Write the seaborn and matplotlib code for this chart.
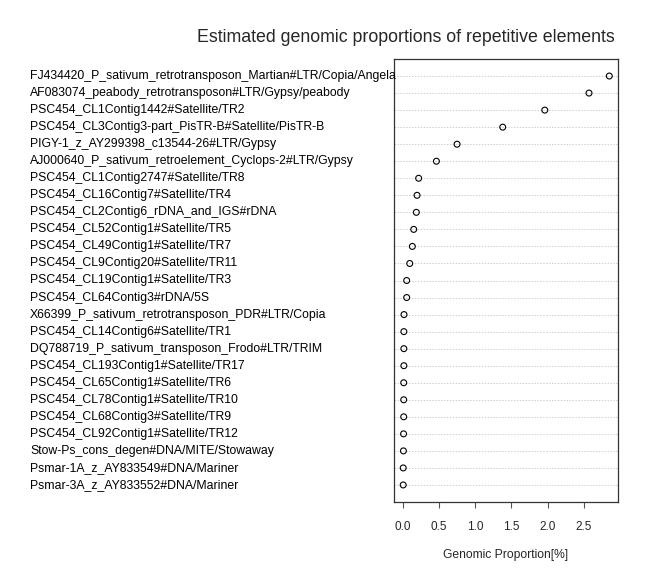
import matplotlib
matplotlib.use("Agg")
import matplotlib.pyplot as plt
import matplotlib.transforms as mtransforms
import numpy as np
import pandas as pd
import seaborn as sns

# repeat element names, top to bottom
elements = [
    "FJ434420_P_sativum_retrotransposon_Martian#LTR/Copia/Angela",
    "AF083074_peabody_retrotransposon#LTR/Gypsy/peabody",
    "PSC454_CL1Contig1442#Satellite/TR2",
    "PSC454_CL3Contig3-part_PisTR-B#Satellite/PisTR-B",
    "PIGY-1_z_AY299398_c13544-26#LTR/Gypsy",
    "AJ000640_P_sativum_retroelement_Cyclops-2#LTR/Gypsy",
    "PSC454_CL1Contig2747#Satellite/TR8",
    "PSC454_CL16Contig7#Satellite/TR4",
    "PSC454_CL2Contig6_rDNA_and_IGS#rDNA",
    "PSC454_CL52Contig1#Satellite/TR5",
    "PSC454_CL49Contig1#Satellite/TR7",
    "PSC454_CL9Contig20#Satellite/TR11",
    "PSC454_CL19Contig1#Satellite/TR3",
    "PSC454_CL64Contig3#rDNA/5S",
    "X66399_P_sativum_retrotransposon_PDR#LTR/Copia",
    "PSC454_CL14Contig6#Satellite/TR1",
    "DQ788719_P_sativum_transposon_Frodo#LTR/TRIM",
    "PSC454_CL193Contig1#Satellite/TR17",
    "PSC454_CL65Contig1#Satellite/TR6",
    "PSC454_CL78Contig1#Satellite/TR10",
    "PSC454_CL68Contig3#Satellite/TR9",
    "PSC454_CL92Contig1#Satellite/TR12",
    "Stow-Ps_cons_degen#DNA/MITE/Stowaway",
    "Psmar-1A_z_AY833549#DNA/Mariner",
    "Psmar-3A_z_AY833552#DNA/Mariner",
]

# genomic proportion in percent, same order
proportion = [
    2.85, 2.57, 1.96, 1.38, 0.75, 0.465, 0.22, 0.198, 0.188, 0.152,
    0.133, 0.097, 0.055, 0.055, 0.018, 0.016, 0.016, 0.016, 0.014,
    0.014, 0.014, 0.012, 0.010, 0.007, 0.007,
]

x_ticks = [0.0, 0.5, 1.0, 1.5, 2.0, 2.5]


def main():
    df = pd.DataFrame({"element": elements, "value": proportion})
    df["row"] = np.arange(len(df))

    sns.set_style("white")
    plt.rcParams["font.family"] = ["Liberation Sans", "DejaVu Sans"]

    fig = plt.figure(figsize=(6.48, 5.76), dpi=100)
    ax = fig.add_axes([394 / 648, 1 - 502 / 576, 224 / 648, 443 / 576])

    sns.scatterplot(data=df, x="value", y="row", ax=ax, marker="o", s=18,
                    legend=False, zorder=3)
    pts = ax.collections[0]
    pts.set_facecolor("none")
    pts.set_edgecolor("black")
    pts.set_linewidth(0.8)

    n = len(df)
    ax.set_ylim(n, -1)
    ax.set_xlim(-0.12, 2.97)

    ax.set_yticks(df["row"])
    ax.set_yticklabels([])
    ax.tick_params(axis="y", length=0)
    ax.grid(axis="y", linestyle=(0, (1.5, 1.5)), color="#cfcfcf", linewidth=0.7)
    ax.grid(axis="x", visible=False)

    ax.set_xticks(x_ticks)
    ax.set_xticklabels([f"{t:.1f}" for t in x_ticks], fontsize=8.5)
    ax.tick_params(axis="x", direction="out", length=4.5, width=0.8,
                   color="#555555", pad=9, bottom=True)
    ax.set_xlabel("Genomic Proportion[%]", fontsize=8.7, labelpad=12)
    ax.set_ylabel("")

    for sp in ax.spines.values():
        sp.set_visible(True)
        sp.set_color("#333333")
        sp.set_linewidth(0.9)

    # row labels are left-aligned at a fixed figure x, like R's dotchart
    trans = mtransforms.blended_transform_factory(fig.transFigure, ax.transData)
    for r, name in zip(df["row"], df["element"]):
        ax.text(30 / 648, r, name, transform=trans, ha="left", va="center",
                fontsize=8.8, color="black", clip_on=False)

    fig.text(406 / 648, 1 - 38 / 576,
             "Estimated genomic proportions of repetitive elements",
             ha="center", va="center", fontsize=12.8)

    fig.savefig("out.png", dpi=100)


if __name__ == "__main__":
    main()
